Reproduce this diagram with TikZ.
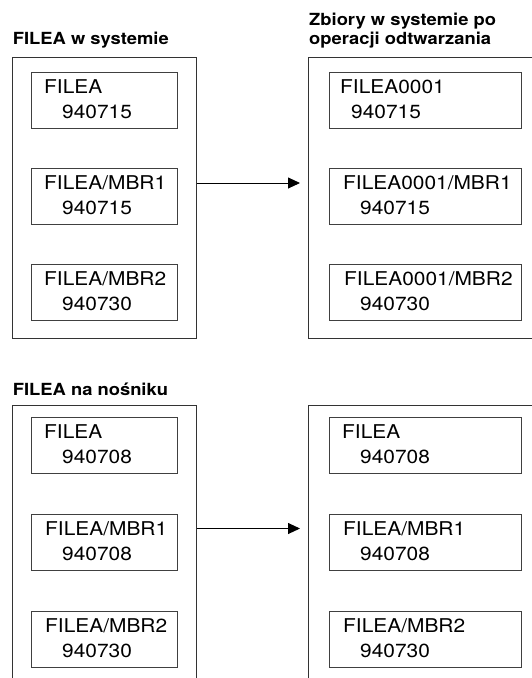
\documentclass[tikz,border=0pt]{standalone}
\usepackage{fontspec}
\setmainfont{TeX Gyre Heros}[FakeStretch=1.1]
\usetikzlibrary{positioning}
\usetikzlibrary{arrows.meta}
\tikzset{outer/.style = {draw=black!80, line width=0.9, anchor=north west, inner sep=0, minimum width=184pt}}
\tikzset{member/.style = {draw=black!75, line width=0.8, anchor=north west, inner sep=0, minimum height=56pt}}
\tikzset{entry/.style = {anchor=base west, inner sep=0, font=\fontsize{19}{22}\selectfont}}
\tikzset{heading/.style = {anchor=base west, inner sep=0, font=\fontsize{16.7}{19}\bfseries\selectfont}}
\tikzset{link/.style = {line width=0.9, -{Triangle[length=12pt,width=11pt]}, shorten >=8pt}}
% file box: name, x, y, width, line 1, offset 1, line 2, offset 2
\newcommand{\filebox}[8]{%
  \node[member, minimum width=#4pt] (#1) at (#2,#3) {};
  \node[entry] at ([xshift=#6pt,yshift=-21pt]#1.north west) {#5};
  \node[entry] at ([xshift=#8pt,yshift=-46pt]#1.north west) {#7};
}

\begin{document}
\begin{tikzpicture}[x=1pt, y=-1pt]
  \useasboundingbox (0,0) rectangle (532,678);
  \clip (0,0) rectangle (532,678);
  % headings
  \node[heading] (hsys) at (12.7,44) {FILEA w systemie};
  \node[heading] (hres1) at (309,25) {Zbiory w systemie po};
  \node[heading] (hres2) at (309,44) {operacji odtwarzania};
  \node[heading] (hmed) at (12.7,395) {FILEA na nośniku};
  % system, before and after
  \node[outer, minimum height=280.5pt] (sysL) at (12,57) {};
  \node[outer, minimum height=280.5pt, minimum width=240pt] (sysR) at (308,57) {};
  \filebox{sysL1}{31}{72}{146}{FILEA}{13}{940715}{31}
  \filebox{sysL2}{31}{168}{146}{FILEA/MBR1}{13}{940715}{31}
  \filebox{sysL3}{31}{264}{146}{FILEA/MBR2}{13}{940730}{31}
  \filebox{sysR1}{329}{72}{192}{FILEA0001}{11}{940715}{22}
  \filebox{sysR2}{329}{168}{192}{FILEA0001/MBR1}{14}{940715}{31}
  \filebox{sysR3}{329}{264}{192}{FILEA0001/MBR2}{15}{940730}{31}
  % medium
  \node[outer, minimum height=300pt] (medL) at (12,405) {};
  \node[outer, minimum height=300pt, minimum width=240pt] (medR) at (308,405) {};
  \filebox{medL1}{31}{417}{146}{FILEA}{13}{940708}{31}
  \filebox{medL2}{31}{514}{146}{FILEA/MBR1}{14}{940708}{31}
  \filebox{medL3}{31}{611}{146}{FILEA/MBR2}{14}{940730}{31}
  \filebox{medR1}{329}{417}{192}{FILEA}{13}{940708}{31}
  \filebox{medR2}{329}{514}{192}{FILEA/MBR1}{14}{940708}{31}
  \filebox{medR3}{329}{611}{192}{FILEA/MBR2}{14}{940730}{31}
  % arrows
  \coordinate (a1) at ([yshift=-15pt]sysL2.north);
  \coordinate (a2) at ([yshift=-14.5pt]medL2.north);
  \draw[link] (sysL.east |- a1) -- (sysR.west |- a1);
  \draw[link] (medL.east |- a2) -- (medR.west |- a2);
\end{tikzpicture}
\end{document}
